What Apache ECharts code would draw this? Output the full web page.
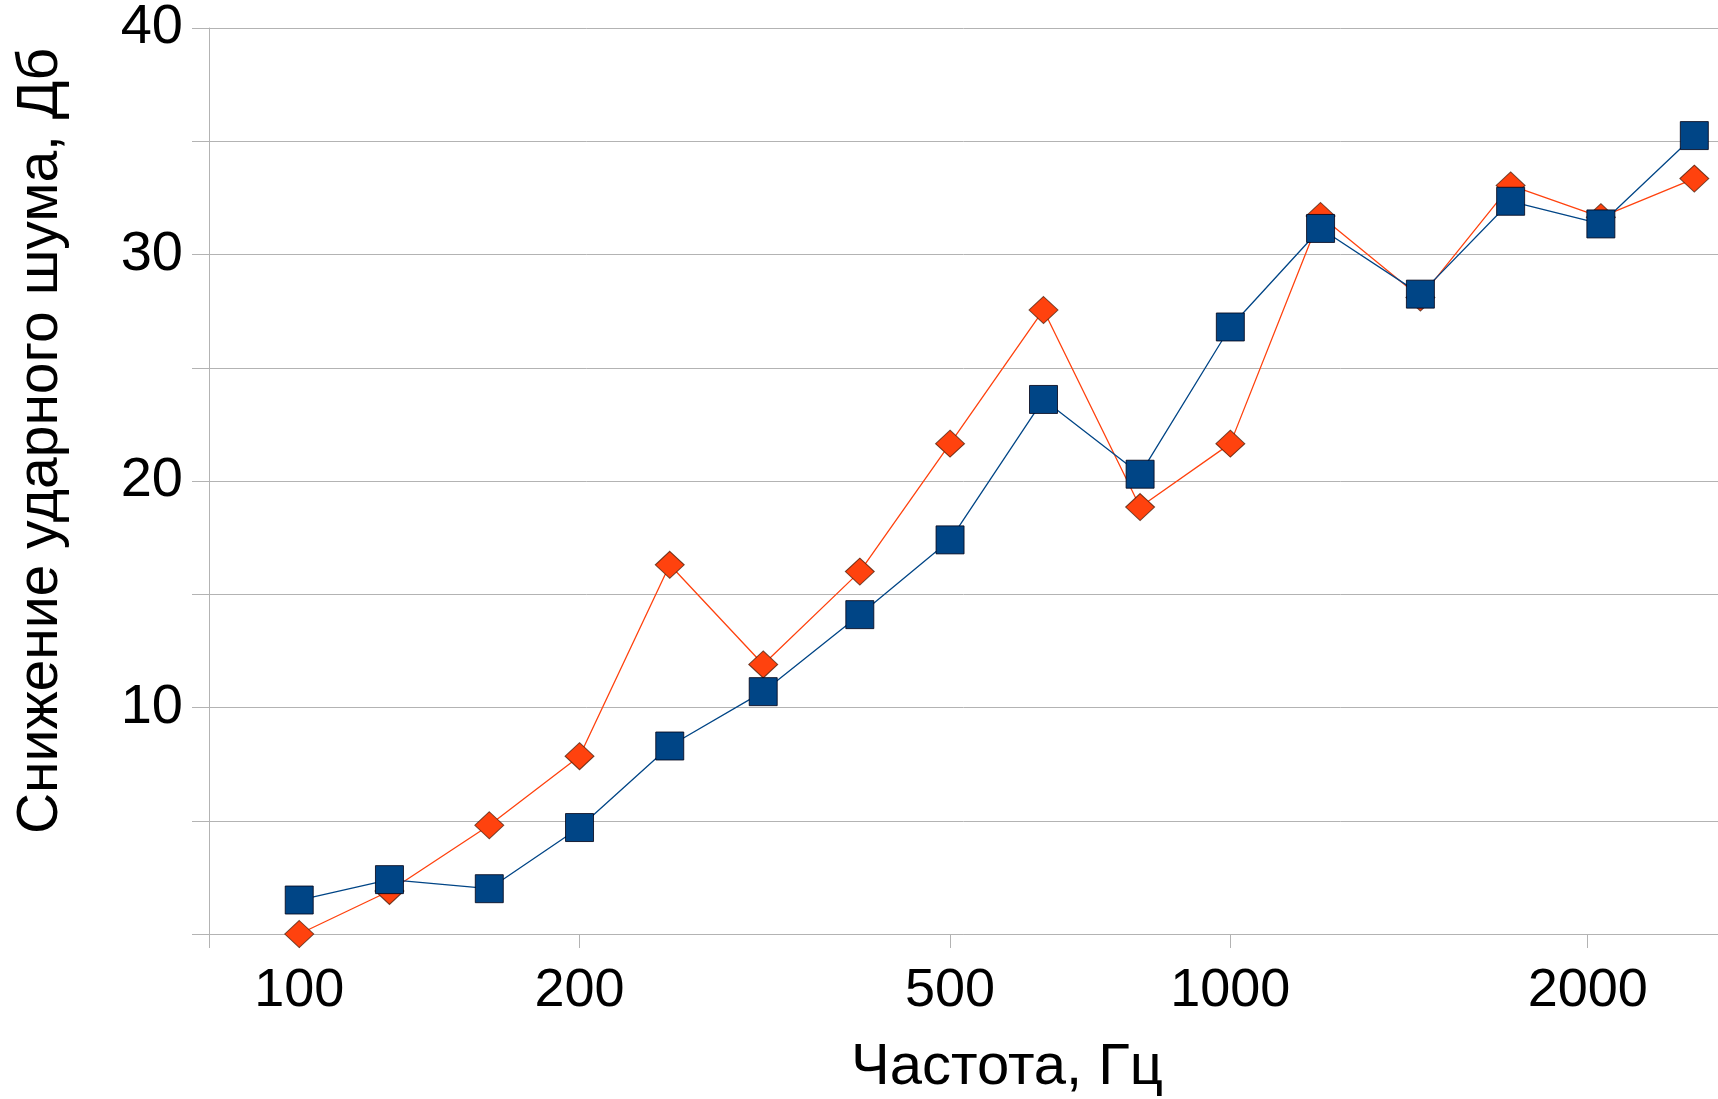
<!DOCTYPE html>
<html>
<head>
<meta charset="utf-8">
<script src="https://cdn.jsdelivr.net/npm/echarts@6/dist/echarts.min.js"></script>
<style>
  html, body { margin: 0; padding: 0; background: #fff; }
  #chart { width: 1718px; height: 1099px; }
</style>
</head>
<body>
<div id="chart"></div>
<script>
// third-octave bands, Hz
var freqs = [100, 125, 160, 200, 250, 315, 400, 500, 630, 800, 1000, 1250, 1600, 2000, 2500, 3150]
// squares
var seriesBlue = [1.5, 2.4, 2.0, 4.7, 8.3, 10.7, 14.1, 17.4, 23.6, 20.3, 26.8, 31.15, 28.25, 32.35, 31.35, 35.25]
// diamonds
var seriesOrange = [0.0, 1.9, 4.8, 7.85, 16.3, 11.9, 16.0, 21.65, 27.55, 18.85, 21.65, 31.7, 28.1, 33.05, 31.65, 33.35]

// x labels; the reference prints its "2000" label near the 2400 Hz spot, kept as drawn
var xTickPos = [100, 200, 500, 1000, 2420]
var xTickLabels = ['100', '200', '500', '1000', '2000']
var xTickMarks = [80, 100, 200, 500, 1000, 2420]
var yLabelTicks = [10, 20, 30, 40]

var xTitle = 'Частота, Гц'
var yTitle = 'Снижение ударного шума, Дб'

function pairs (ys) {
  return freqs.map(function (f, i) { return [f, ys[i]] })
}

var chart = echarts.init(document.getElementById('chart'))
var font = '"Liberation Sans", Arial, sans-serif'
var gray = '#b3b3b3'

chart.setOption({
  animation: false,
  textStyle: { fontFamily: font },
  grid: { left: 209, right: 0, top: 27, bottom: 165, containLabel: false },
  xAxis: {
    type: 'log',
    logBase: 10,
    min: 80,
    max: 3340,
    axisLine: { show: true, lineStyle: { color: gray, width: 1 } },
    axisTick: { show: true, length: 14, customValues: xTickMarks, lineStyle: { color: gray } },
    axisLabel: {
      customValues: xTickPos,
      formatter: function (v) {
        var i = xTickPos.indexOf(v)
        return i < 0 ? '' : xTickLabels[i]
      },
      color: '#000',
      fontSize: 54,
      margin: 30,
      fontFamily: font
    },
    splitLine: { show: false }
  },
  yAxis: {
    type: 'value',
    min: 0,
    max: 40,
    interval: 5,
    axisLine: { show: true, lineStyle: { color: gray, width: 1 } },
    axisTick: { show: true, length: 17, lineStyle: { color: gray } },
    axisLabel: {
      customValues: yLabelTicks,
      color: '#000',
      fontSize: 56,
      margin: 26,
      fontFamily: font
    },
    splitLine: { show: true, lineStyle: { color: gray, width: 1 } }
  },
  graphic: [
    {
      type: 'text',
      x: 1007,
      y: 1068,
      style: { text: xTitle, font: '58px ' + font, fill: '#000', textAlign: 'center', textVerticalAlign: 'middle' }
    },
    {
      type: 'text',
      x: 41,
      y: 441,
      rotation: Math.PI / 2,
      style: { text: yTitle, font: '57px ' + font, fill: '#000', textAlign: 'center', textVerticalAlign: 'middle' }
    }
  ],
  series: [
    {
      name: 'orange',
      type: 'line',
      data: pairs(seriesOrange),
      symbol: 'diamond',
      symbolSize: [29, 27],
      lineStyle: { color: '#ff420e', width: 1.3 },
      itemStyle: { color: '#ff420e', borderColor: 'rgba(60,20,0,0.7)', borderWidth: 1 },
      z: 2
    },
    {
      name: 'blue',
      type: 'line',
      data: pairs(seriesBlue),
      symbol: 'rect',
      symbolSize: 28,
      lineStyle: { color: '#004586', width: 1.3 },
      itemStyle: { color: '#004586', borderColor: 'rgba(0,0,20,0.8)', borderWidth: 1 },
      z: 3
    }
  ]
})
</script>
</body>
</html>
